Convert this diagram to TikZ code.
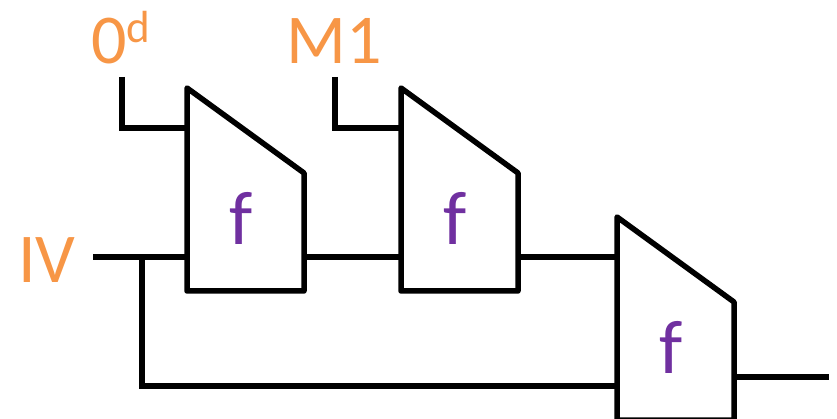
\documentclass[tikz,border=0pt]{standalone}
\usepackage{fontspec}
\setmainfont{Carlito}
\usepackage{xcolor}
\usepackage{tikz}
\usetikzlibrary{positioning}
\definecolor{keyorange}{HTML}{F79646}
\definecolor{fpurple}{HTML}{7030A0}

\begin{document}
\begin{tikzpicture}[
    x=1pt, y=-1pt,
    lbl/.style={text=keyorange, font=\fontsize{70}{70}\selectfont, inner sep=0pt},
    fname/.style={text=fpurple, font=\fontsize{76}{76}\selectfont, inner sep=0pt},
    wire/.style={line width=6.7pt},
    fbox/.style={line width=5.5pt, line join=round}
]
\useasboundingbox (0,0) rectangle (837,419);

% compression boxes
\foreach \n/\x/\y in {f1/187/88, f2/401/88, f3/617/217} {
    \draw[fbox] (\x,\y) -- ++(117,85) -- ++(0,118) -- ++(-117,0) -- cycle;
    \coordinate (\n-a) at (\x,\y+40);
    \coordinate (\n-b) at (\x,\y+169);
    \node[fname] (\n) at (\x+54,\y+130) {f};
}
\coordinate (f1-o) at (304,257);
\coordinate (f2-o) at (518,257);
\coordinate (f3-o) at (734,377);

% labels
\node[lbl, anchor=base west] (zero) at (91,64) {0\raisebox{21pt}{\fontsize{45}{45}\selectfont d}};
\node[lbl, anchor=base west] (msg) at (286,64) {M1};
\node[lbl, anchor=base west] (iv) at (18,283) {IV};

% free ends
\coordinate (zero-w) at (122,77);
\coordinate (msg-w) at (335,77);
\coordinate (iv-w) at (93,257);
\coordinate (tap) at (142,257);
\coordinate (out) at (829,377);

\draw[wire] (zero-w) |- (f1-a);
\draw[wire] (msg-w) |- (f2-a);
\draw[wire] (iv-w) -- (f1-b);
\draw[wire] (tap) |- (f3-b);
\draw[wire] (f1-o) -- (f2-b);
\draw[wire] (f2-o) -- (f3-a);
\draw[wire] (f3-o) -- (out);

\end{tikzpicture}
\end{document}
